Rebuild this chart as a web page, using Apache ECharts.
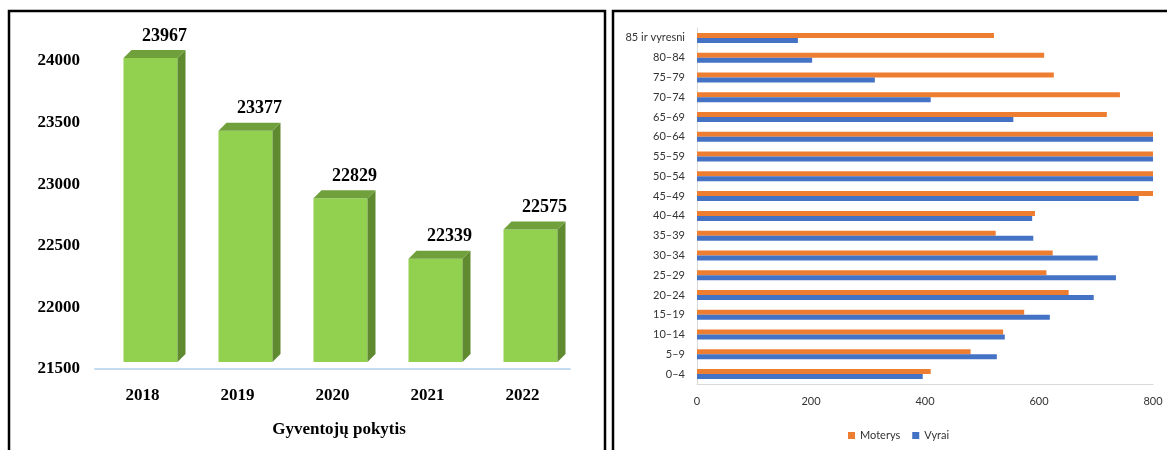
<!DOCTYPE html>
<html>
<head>
	<meta charset="UTF-8">
	<title>Gyventojai</title>
	<script src="https://cdn.jsdelivr.net/npm/echarts@6/dist/echarts.min.js"></script>
	<style>
		html, body { margin: 0; padding: 0; background: #fff; }
	</style>
</head>
<body>
	<div id="chart1" style="width: 1167px;height: 450px;"></div>
</body>
</html>
<script type="text/javascript">
	// kairė diagrama: gyventojų skaičius
	var years = ['2018', '2019', '2020', '2021', '2022'];
	var population = [23967, 23377, 22829, 22339, 22575];

	// dešinė diagrama: amžiaus grupės (iš apačios į viršų)
	var ageGroups = ['0–4', '5–9', '10–14', '15–19', '20–24', '25–29', '30–34', '35–39', '40–44',
		'45–49', '50–54', '55–59', '60–64', '65–69', '70–74', '75–79', '80–84', '85 ir vyresni'];
	var women = [410, 480, 537, 574, 652, 613, 624, 524, 593, 800, 800, 800, 800, 719, 742, 626, 609, 521];
	var men = [396, 526, 540, 619, 696, 735, 703, 590, 588, 775, 800, 800, 800, 555, 410, 312, 202, 177];

	var serif = '"Liberation Serif", "Times New Roman", serif';
	var sans = 'Lato, "Noto Sans", sans-serif';

	var chart1 = echarts.init(document.getElementById('chart1'));

	function bar3d(params, api) {
		var i = api.value(0);
		var v = api.value(1);
		var top = api.coord([i, v]);
		var base = api.coord([i, 21500]);
		var w = 54, d = 8;
		var x0 = top[0] + 8 - w / 2;
		var yT = top[1] - 7;
		var yB = base[1] - 7;
		return {
			type: 'group',
			children: [
				{ type: 'rect', shape: { x: x0, y: yT, width: w, height: yB - yT }, style: { fill: '#92d050' } },
				{ type: 'polygon', shape: { points: [[x0 + w, yT], [x0 + w + d, yT - d], [x0 + w + d, yB - d], [x0 + w, yB]] }, style: { fill: '#5f8a2f' } },
				{ type: 'polygon', shape: { points: [[x0, yT], [x0 + d, yT - d], [x0 + w + d, yT - d], [x0 + w, yT]] }, style: { fill: '#70a03c' } },
				{
					type: 'text', x: x0 + w / 2 + 14, y: yT - d - 14,
					style: { text: String(v), fill: '#000', font: 'bold 18px ' + serif, align: 'center', verticalAlign: 'middle' }
				}
			]
		};
	}

	var option = {
		animation: false,
		graphic: [
			{ type: 'rect', shape: { x: 9, y: 11, width: 596, height: 460 }, style: { fill: 'none', stroke: '#000', lineWidth: 2.5 } },
			{ type: 'rect', shape: { x: 613, y: 11, width: 600, height: 460 }, style: { fill: 'none', stroke: '#000', lineWidth: 2.5 } },
			{ type: 'text', x: 339, y: 430, style: { text: 'Gyventojų pokytis', fill: '#000', font: 'bold 17px ' + serif, align: 'center', verticalAlign: 'middle' } }
		],
		legend: {
			data: ['Moterys', 'Vyrai'],
			left: 843, top: 425,
			itemWidth: 7, itemHeight: 7, itemGap: 12,
			icon: 'rect',
			textStyle: { fontFamily: sans, fontSize: 11, color: '#333' }
		},
		grid: [
			{ left: 95, top: 61, width: 475, height: 308 },
			{ left: 697, top: 28, width: 456, height: 356 }
		],
		xAxis: [
			{
				gridIndex: 0, type: 'category', data: years,
				axisLine: { lineStyle: { color: '#c5dcf0', width: 2 } },
				axisTick: { show: false },
				axisLabel: { margin: 18, color: '#000', fontFamily: serif, fontWeight: 'bold', fontSize: 17 }
			},
			{
				gridIndex: 1, type: 'value', min: 0, max: 800, interval: 200,
				axisLine: { show: true, lineStyle: { color: '#d9d9d9' } },
				axisTick: { show: false },
				splitLine: { show: false },
				axisLabel: { margin: 12, color: '#333', fontFamily: sans, fontSize: 11 }
			}
		],
		yAxis: [
			{
				gridIndex: 0, type: 'value', min: 21500, max: 24000, interval: 500,
				axisLine: { show: false }, axisTick: { show: false }, splitLine: { show: false },
				axisLabel: {
					margin: 15, color: '#000', fontFamily: serif, fontWeight: 'bold', fontSize: 17,
					formatter: function (v) { return String(v); }
				}
			},
			{
				gridIndex: 1, type: 'category', data: ageGroups,
				axisLine: { show: true, lineStyle: { color: '#d9d9d9' } },
				axisTick: { show: false },
				axisLabel: { margin: 12, color: '#333', fontFamily: sans, fontSize: 11 }
			}
		],
		series: [
			{
				type: 'custom', xAxisIndex: 0, yAxisIndex: 0,
				renderItem: bar3d,
				data: population.map(function (v, i) { return [i, v]; })
			},
			{
				name: 'Moterys', type: 'bar', xAxisIndex: 1, yAxisIndex: 1,
				data: women, barWidth: 5, barGap: '0%',
				itemStyle: { color: '#ed7d31' }
			},
			{
				name: 'Vyrai', type: 'bar', xAxisIndex: 1, yAxisIndex: 1,
				data: men, barWidth: 5, barGap: '0%',
				itemStyle: { color: '#4472c4' }
			}
		]
	};

	chart1.setOption(option);
</script>
